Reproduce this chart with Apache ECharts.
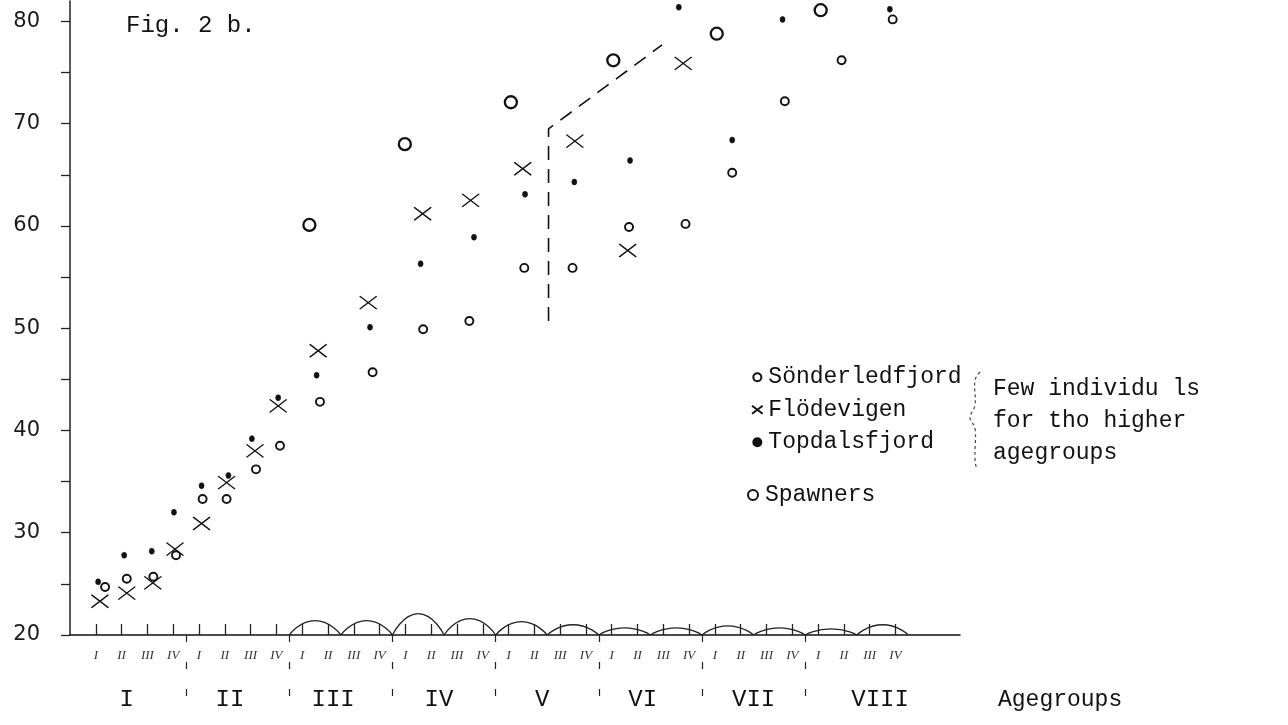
<!DOCTYPE html>
<html><head><meta charset="utf-8">
<script src="https://cdn.jsdelivr.net/npm/echarts@6/dist/echarts.min.js"></script>
<style>html,body{margin:0;padding:0;background:#fff}#c{width:1288px;height:725px}</style>
</head><body><div id="c"></div>
<script>
// x values are in quarter-year units (quarter ticks at 1..32), y values are lengths (cm)
const sonderX = [1.36,2.20,3.23,4.11,5.14,6.07,7.21,8.14,9.69,11.73,13.69,15.48,17.61,19.48,21.67,23.86,25.67,27.71,29.91,31.89];
const sonderY = [24.7,25.5,25.7,27.8,33.3,33.3,36.2,38.5,42.8,45.7,49.9,50.7,55.9,55.9,59.9,60.2,65.2,72.2,76.2,80.2];
const flodeX  = [1.16,2.20,3.21,4.07,5.10,6.07,7.17,8.07,9.62,11.56,13.67,15.53,17.55,19.57,21.62,23.77];
const flodeY  = [23.3,24.1,25.1,28.4,30.9,34.9,38.0,42.4,47.8,52.5,61.2,62.5,65.6,68.3,57.6,75.9];
const topdalX = [1.09,2.10,3.17,4.03,5.10,6.14,7.05,8.07,9.56,11.63,13.59,15.66,17.64,19.55,21.71,23.60,25.67,27.62,31.78];
const topdalY = [25.2,27.8,28.2,32.0,34.6,35.6,39.2,43.2,45.4,50.1,56.3,58.9,63.1,64.3,66.4,81.4,68.4,80.2,81.2];
const spawnX  = [9.28,12.98,17.09,21.06,25.07,29.10];
const spawnY  = [60.1,68.0,72.1,76.2,78.8,81.1];
const dashX   = [18.55,18.55,22.95];
const dashY   = [50.7,69.5,77.7];
// half-year arcs drawn over the axis for agegroups III-VIII (peak heights)
const arcPeaks = [21.4,21.4,22.1,21.6,21.3,21.0,20.7,20.7,20.9,20.7,20.6,21.0];
const arcFirstStart = 8.5;
// tick labels
const yTicks = [20,25,30,35,40,45,50,55,60,65,70,75,80];
const yLabels = [20,30,40,50,60,70,80];
const quarterTicks = Array.from({length:32},(_,i)=>i+1);
const quarterNames = ['I','II','III','IV'];
const groupBounds = [4.5,8.5,12.5,16.5,20.5,24.5,28.5];
const groupLabelAt = [2.2,6.2,10.2,14.3,18.3,22.2,26.5,31.4];
const groupNames = ['I','II','III','IV','V','VI','VII','VIII'];

const zip = (a,b) => a.map((v,i)=>[v,b[i]]);
const ink = '#111';
const mono = '"Liberation Mono","DejaVu Sans Mono",monospace';

const series = [];
arcPeaks.forEach((p,k)=>{
  const s = arcFirstStart + 2*k;
  series.push({type:'line', data:[[s,20],[s+1,p],[s+2,20]], smooth:0.6, symbol:'none',
    lineStyle:{color:'#222',width:1.3}, silent:true, z:1});
});
series.push({type:'line', name:'guide', data:zip(dashX,dashY), symbol:'none',
  lineStyle:{color:ink,width:1.6,type:[14,9]}, silent:true, z:2});
series.push({type:'scatter', name:'Sönderledfjord', data:zip(sonderX,sonderY), symbol:'circle', symbolSize:8,
  itemStyle:{color:'#fff',borderColor:ink,borderWidth:1.9,opacity:1}, z:5});
series.push({type:'scatter', name:'Flödevigen', data:zip(flodeX,flodeY), symbol:'path://M0,0L16,12M16,0L0,12', symbolSize:[17,13],
  itemStyle:{color:'rgba(0,0,0,0)',borderColor:ink,borderWidth:1.4,opacity:1}, z:5});
series.push({type:'scatter', name:'Topdalsfjord', data:zip(topdalX,topdalY), symbol:'circle', symbolSize:[5,6],
  itemStyle:{color:ink,borderColor:ink,borderWidth:0.6,opacity:1}, z:6});
series.push({type:'scatter', name:'Spawners', data:zip(spawnX,spawnY), symbol:'circle', symbolSize:12,
  itemStyle:{color:'#fff',borderColor:ink,borderWidth:2.3,opacity:1}, z:5});

const chart = echarts.init(document.getElementById('c'));
chart.setOption({
  animation:false,
  backgroundColor:'#fff',
  title:{text:'Fig. 2 b.', left:121, top:9, textStyle:{fontFamily:mono,fontSize:24,fontWeight:'normal',color:ink}},
  grid:{left:70, top:1, width:890, bottom:90, outerBoundsMode:'none', containLabel:false},
  legend:[
    {orient:'vertical', left:746, top:356, itemWidth:12, itemHeight:8, itemGap:0, selectedMode:false,
     data:['Sönderledfjord','Flödevigen','Topdalsfjord'],
     textStyle:{fontFamily:mono,fontSize:23,color:ink,lineHeight:32.5}},
    {orient:'vertical', left:742, top:474, itemWidth:14, itemHeight:10, selectedMode:false,
     data:['Spawners'], textStyle:{fontFamily:mono,fontSize:23,color:ink,lineHeight:32}}
  ],
  xAxis:[
    {type:'value', min:0, max:34.5, position:'bottom',
     axisLine:{show:true,lineStyle:{color:ink,width:1.5}},
     axisTick:{show:true, inside:true, length:11, customValues:quarterTicks, lineStyle:{color:'#222',width:1.3}},
     axisLabel:{show:true, customValues:quarterTicks, margin:14,
       formatter:v=>quarterNames[(Math.round(v)-1)%4],
       fontFamily:'"Liberation Serif",serif', fontStyle:'italic', fontSize:13, color:'#333'},
     splitLine:{show:false}},
    {type:'value', min:0, max:34.5, position:'bottom', offset:0,
     axisLine:{show:false},
     axisTick:{show:true, inside:false, length:72, customValues:groupBounds, lineStyle:{color:'#222',width:1.2,type:[7,20]}},
     axisLabel:{show:true, customValues:groupLabelAt, margin:53,
       formatter:v=>{const i=groupLabelAt.indexOf(v); return i>=0?groupNames[i]:'';},
       fontFamily:mono, fontSize:24, color:ink},
     splitLine:{show:false}}
  ],
  yAxis:{type:'value', min:20, max:82,
     axisLine:{show:true,lineStyle:{color:'#222',width:1.5}},
     axisTick:{show:true, inside:false, length:9, customValues:yTicks, lineStyle:{color:'#222',width:1.3}},
     axisLabel:{show:true, customValues:yLabels, margin:30, fontFamily:'"DejaVu Sans",sans-serif', fontSize:21, color:'#1a1a1a'},
     splitLine:{show:false}},
  graphic:[
    {type:'text', left:993, top:377, style:{text:'Few individu ls', font:'23px '+mono, fill:ink}},
    {type:'text', left:993, top:409, style:{text:'for tho higher', font:'23px '+mono, fill:ink}},
    {type:'text', left:993, top:441, style:{text:'agegroups', font:'23px '+mono, fill:ink}},
    {type:'text', left:998, top:688, style:{text:'Agegroups', font:'23px '+mono, fill:ink}},
    {type:'polyline', shape:{points:[[980,372],[975,380],[975,405],[970,418],[975,428],[975,460],[977,470]], smooth:0.4},
     style:{stroke:'#444', lineWidth:1.2, lineDash:[3,3], fill:null}}
  ],
  series
});
</script></body></html>
